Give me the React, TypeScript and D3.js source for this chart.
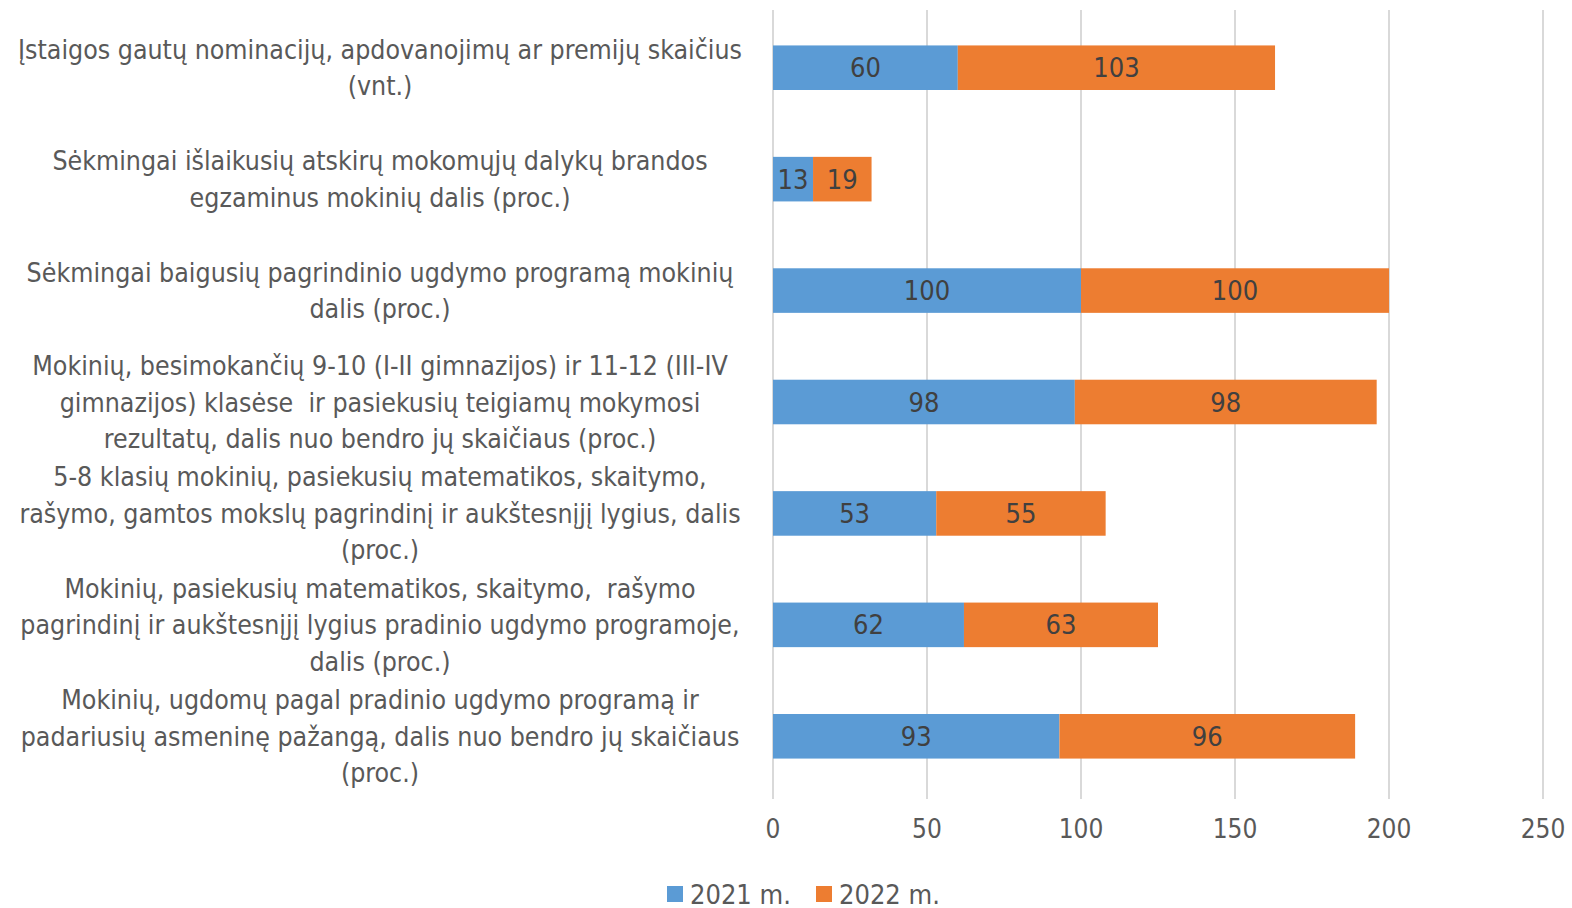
import React from "react";
import * as d3 from "d3";

const categories = [
  "Įstaigos gautų nominacijų, apdovanojimų ar premijų skaičius\n(vnt.)",
  "Sėkmingai išlaikusių atskirų mokomųjų dalykų brandos\negzaminus mokinių dalis (proc.)",
  "Sėkmingai baigusių pagrindinio ugdymo programą mokinių\ndalis (proc.)",
  "Mokinių, besimokančių 9-10 (I-II gimnazijos) ir 11-12 (III-IV\ngimnazijos) klasėse  ir pasiekusių teigiamų mokymosi\nrezultatų, dalis nuo bendro jų skaičiaus (proc.)",
  "5-8 klasių mokinių, pasiekusių matematikos, skaitymo,\nrašymo, gamtos mokslų pagrindinį ir aukštesnįjį lygius, dalis\n(proc.)",
  "Mokinių, pasiekusių matematikos, skaitymo,  rašymo\npagrindinį ir aukštesnįjį lygius pradinio ugdymo programoje,\ndalis (proc.)",
  "Mokinių, ugdomų pagal pradinio ugdymo programą ir\npadariusių asmeninę pažangą, dalis nuo bendro jų skaičiaus\n(proc.)",
];
const values2021 = [60, 13, 100, 98, 53, 62, 93];
const values2022 = [103, 19, 100, 98, 55, 63, 96];
const seriesNames = ["2021 m.", "2022 m."];
const seriesColors = ["#5B9BD5", "#ED7D31"];
const xTicks = [0, 50, 100, 150, 200, 250];

const FONT = "'Liberation Sans Narrow', 'DejaVu Sans Condensed', 'Open Sans', sans-serif";

export default function App() {
  const W = 1572, H = 908;
  const x = d3.scaleLinear().domain([0, 250]).range([773, 1543]);
  const y = d3.scaleBand<number>().domain(d3.range(categories.length)).range([12, 792]).paddingInner(0.6).paddingOuter(0.3);
  const stackData = categories.map((_, i) => ({ i, a: values2021[i], b: values2022[i] }));
  const stack = d3.stack<any>().keys(["a", "b"])(stackData);
  const lineH = 36.5;
  return (
    <svg width={W} height={H} style={{ position: "absolute", left: 0, top: 0, background: "#fff" }}>
      {xTicks.map((t) => (
        <g key={t}>
          <line x1={x(t)} x2={x(t)} y1={10} y2={799} stroke="#D9D9D9" strokeWidth={2} />
          <text x={x(t)} y={829} textAnchor="middle" dominantBaseline="central" fontFamily={FONT} fontSize={26} fill="#595959">{t}</text>
        </g>
      ))}
      {stack.map((s, si) => (
        <g key={si}>
          {s.map((d: any, i: number) => {
            const x0 = x(d[0]), x1 = x(d[1]);
            const yy = y(i)!;
            return (
              <g key={i}>
                <rect x={x0} y={yy} width={x1 - x0} height={y.bandwidth()} fill={seriesColors[si]} />
                <text x={(x0 + x1) / 2} y={yy + y.bandwidth() / 2} textAnchor="middle" dominantBaseline="central" fontFamily={FONT} fontSize={27} fill="#404040">
                  {d[1] - d[0]}
                </text>
              </g>
            );
          })}
        </g>
      ))}
      {categories.map((c, i) => {
        const lines = c.split("\n");
        const cy = y(i)! + y.bandwidth() / 2;
        return (
          <text key={i} textAnchor="middle" fontFamily={FONT} fontSize={26.5} fill="#595959">
            {lines.map((l, k) => (
              <tspan key={k} x={380} y={cy + (k - (lines.length - 1) / 2) * lineH} dominantBaseline="central" style={{ whiteSpace: "pre" }}>{l}</tspan>
            ))}
          </text>
        );
      })}
      {seriesNames.map((n, i) => {
        const lx = i === 0 ? 667 : 816;
        return (
          <g key={n}>
            <rect x={lx} y={886} width={16} height={16} fill={seriesColors[i]} />
            <text x={lx + 23} y={894} dominantBaseline="central" fontFamily={FONT} fontSize={27} fill="#595959">{n}</text>
          </g>
        );
      })}
    </svg>
  );
}
